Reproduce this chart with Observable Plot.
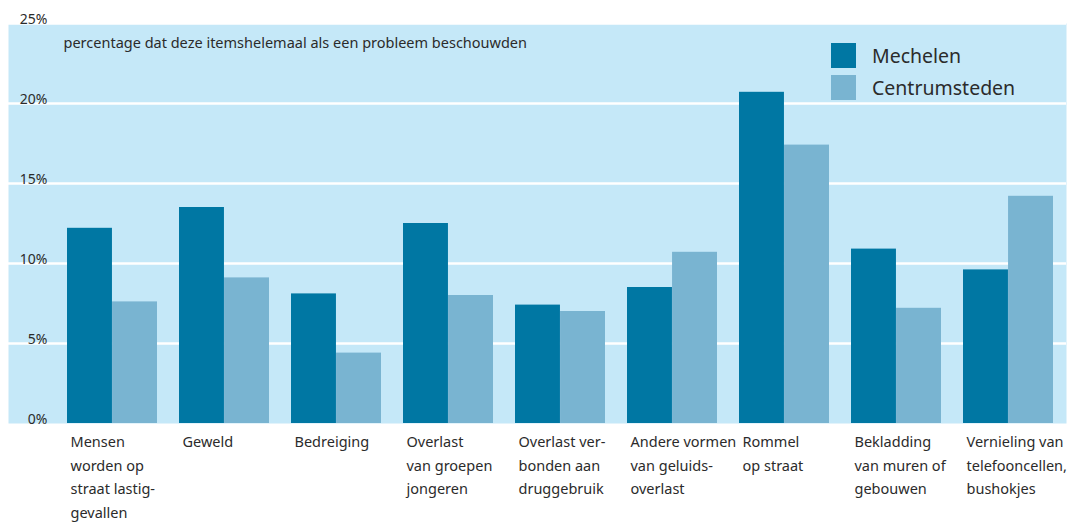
<!DOCTYPE html>
<html>
<head>
<meta charset="utf-8">
<script src="https://cdn.jsdelivr.net/npm/d3@7"></script>
<script src="https://cdn.jsdelivr.net/npm/@observablehq/plot@0.6"></script>
<style>
  html, body { margin: 0; padding: 0; background: #ffffff; }
  #wrap { position: relative; width: 1071px; height: 522px; overflow: hidden; font-family: "Noto Sans", sans-serif; color: #2b2b2b; }
  .leg { position: absolute; left: 831px; display: flex; align-items: center; }
  .sw { width: 25px; height: 25px; }
  .lt { position: absolute; left: 41px; font-size: 19.5px; white-space: nowrap; line-height: 25px; top: 0; }
</style>
</head>
<body>
<div id="wrap"></div>
<script>
const categories = [
  "Mensen\nworden op\nstraat lastig-\ngevallen",
  "Geweld",
  "Bedreiging",
  "Overlast\nvan groepen\njongeren",
  "Overlast ver-\nbonden aan\ndruggebruik",
  "Andere vormen\nvan geluids-\noverlast",
  "Rommel\nop straat",
  "Bekladding\nvan muren of\ngebouwen",
  "Vernieling van\ntelefooncellen,\nbushokjes"
];
const seriesNames = ["Mechelen", "Centrumsteden"];
const mechelen = [12.2, 13.5, 8.1, 12.5, 7.4, 8.5, 20.7, 10.9, 9.6];
const centrumsteden = [7.6, 9.1, 4.4, 8.0, 7.0, 10.7, 17.4, 7.2, 14.2];
const seriesColors = ["#0077a3", "#79b4d1"];
const yTicks = [0, 5, 10, 15, 20, 25];
const gridTicks = [5, 10, 15, 20, 25];
const subtitle = "percentage dat deze itemshelemaal als een probleem beschouwden";

const rowsM = categories.map((c, i) => ({category: c, series: seriesNames[0], value: mechelen[i]}));
const rowsC = categories.map((c, i) => ({category: c, series: seriesNames[1], value: centrumsteden[i]}));

const chart = Plot.plot({
  width: 1071,
  height: 522,
  marginLeft: 8,
  marginRight: 5,
  marginTop: 23,
  marginBottom: 99,
  style: {fontFamily: "'Noto Sans', sans-serif", color: "#2b2b2b", background: "transparent"},
  x: {domain: categories, range: [56, 1064], paddingInner: 0.196, paddingOuter: 0.098, axis: null},
  y: {domain: [0, 25], axis: null},
  marks: [
    Plot.frame({fill: "#c5e8f8", stroke: "none"}),
    Plot.ruleY(gridTicks, {stroke: "#ffffff", strokeWidth: 2.5}),
    Plot.barY(rowsM, {x: "category", y: "value", fill: seriesColors[0], insetRight: 45.05, insetLeft: 0}),
    Plot.barY(rowsC, {x: "category", y: "value", fill: seriesColors[1], insetLeft: 45.05, insetRight: 0}),
    Plot.text(yTicks, {y: d => d, text: d => d + "%", frameAnchor: "left", dx: 39, textAnchor: "end", lineAnchor: "bottom", dy: 0, fontSize: 14, fill: "#2b2b2b"}),
    Plot.text(categories, {x: d => d, text: d => d, frameAnchor: "bottom", lineAnchor: "top", textAnchor: "start", dx: -42, dy: 7, lineHeight: 1.62, fontSize: 14.5, fill: "#2b2b2b"}),
    Plot.text([subtitle], {text: d => d, frameAnchor: "top-left", dx: 55, dy: 24, lineAnchor: "bottom", textAnchor: "start", fontSize: 14.5, fill: "#2b2b2b"})
  ]
});

const wrap = document.getElementById("wrap");
wrap.appendChild(chart);

const legTops = [43, 75];
seriesNames.forEach((name, i) => {
  const item = document.createElement("div");
  item.className = "leg";
  item.style.top = legTops[i] + "px";
  const sw = document.createElement("div");
  sw.className = "sw";
  sw.style.background = seriesColors[i];
  const lt = document.createElement("div");
  lt.className = "lt";
  lt.textContent = name;
  item.appendChild(sw);
  item.appendChild(lt);
  wrap.appendChild(item);
});
</script>
</body>
</html>
